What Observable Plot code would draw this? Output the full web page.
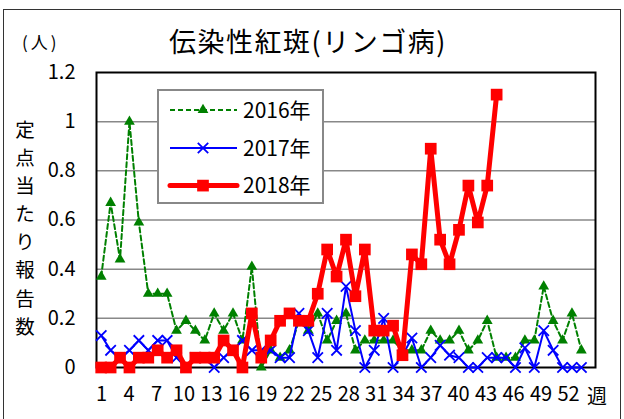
<!DOCTYPE html>
<html><head><meta charset="utf-8">
<script src="https://cdn.jsdelivr.net/npm/d3@7"></script>
<script src="https://cdn.jsdelivr.net/npm/@observablehq/plot@0.6"></script>
<style>
body{margin:0;background:#fff;}
#wrap{position:relative;width:624px;height:419px;overflow:hidden;font-family:"Noto Sans CJK JP","Noto Sans",sans-serif;color:#000;background:#fff;}
#border{position:absolute;left:3px;top:9px;width:618px;height:430px;border:1.5px solid #333;box-sizing:border-box;}
.abs{position:absolute;}
</style></head><body>
<div id="wrap">
  <div id="border"></div>
  <div id="chart" class="abs" style="left:0;top:0"></div>
  <div id="xaxis" class="abs" style="left:0;top:0;pointer-events:none"></div>
  <div class="abs" style="left:0;width:616px;top:26px;text-align:center;font-size:27px;line-height:30px;letter-spacing:1.5px;">伝染性紅斑(リンゴ病)</div>
  <div class="abs" style="left:22px;top:32px;font-size:17px;line-height:20px;letter-spacing:3px;">(人)</div>
  <div class="abs" style="left:4px;width:42px;top:115px;text-align:center;font-size:19.5px;line-height:28.1px;">定<br>点<br>当<br>た<br>り<br>報<br>告<br>数</div>
  <div class="abs" style="left:587px;top:385px;font-size:20px;line-height:22px;">週</div>
  <div id="legend" class="abs" style="left:157px;top:89px;width:167px;height:115px;border:2px solid #888;box-sizing:border-box;background:#fff;"></div>
</div>
<script>
const weeks = [1,2,3,4,5,6,7,8,9,10,11,12,13,14,15,16,17,18,19,20,21,22,23,24,25,26,27,28,29,30,31,32,33,34,35,36,37,38,39,40,41,42,43,44,45,46,47,48,49,50,51,52];
const xTickLabels = [1,4,7,10,13,16,19,22,25,28,31,34,37,40,43,46,49,52];
const yTicks = [0,0.2,0.4,0.6,0.8,1.0,1.2];
const seriesNames = ["2016年","2017年","2018年"];
const y2016 = [0.37,0.67,0.44,1.00,0.59,0.30,0.30,0.30,0.15,0.19,
  0.15,0.11,0.22,0.15,0.22,0.11,0.41,0.00,0.07,0.04,
  0.07,0.19,0.15,0.22,0.11,0.19,0.22,0.07,0.11,0.11,
  0.11,0.11,0.07,0.07,0.07,0.15,0.11,0.11,0.15,0.07,
  0.11,0.19,0.04,0.04,0.04,0.11,0.11,0.33,0.19,0.11,
  0.22,0.07];
const y2017 = [0.13,0.07,0.04,0.07,0.11,0.07,0.11,0.11,0.04,0.00,
  0.04,0.04,0.00,0.04,0.07,0.11,0.07,0.07,0.07,0.04,
  0.04,0.22,0.15,0.04,0.22,0.07,0.33,0.15,0.00,0.07,
  0.20,0.00,0.05,0.12,0.00,0.04,0.09,0.05,0.04,0.00,
  0.00,0.04,0.04,0.04,0.00,0.08,0.00,0.15,0.07,0.00,
  0.00,0.00];
const y2018 = [0.00,0.00,0.04,0.00,0.04,0.04,0.07,0.04,0.07,0.00,
  0.04,0.04,0.04,0.11,0.07,0.00,0.22,0.04,0.11,0.19,
  0.22,0.19,0.19,0.30,0.48,0.37,0.52,0.29,0.48,0.15,
  0.15,0.17,0.05,0.46,0.42,0.89,0.52,0.42,0.56,0.74,
  0.59,0.74,1.11];

const colors = ["#008000","#0000ff","#ff0000"];
const toRows = (vals) => vals.map((v,i) => ({week: weeks[i], value: v}));
const d16 = toRows(y2016), d17 = toRows(y2017), d18 = toRows(y2018);

const W = 624, H = 419, mL = 96, mR = 29, mT = 72, mB = 52;
const font = '"Noto Sans CJK JP","Noto Sans",sans-serif';

const chart = Plot.plot({
  width: W, height: H,
  marginLeft: mL, marginRight: mR, marginTop: mT, marginBottom: mB,
  style: {fontFamily: font, fontSize: "20px", color: "#000", background: "transparent"},
  x: {domain: [0.5, 53.5], axis: null},
  y: {domain: [0, 1.2], axis: null},
  marks: [
    Plot.ruleY(yTicks.filter(d => d > 0 && d < 1.2), {stroke: "#888", strokeWidth: 1.5}),
    Plot.frame({stroke: "#000", strokeWidth: 2}),
    Plot.axisY(yTicks, {tickSize: 0, tickPadding: 21, fontSize: 20, label: null,
      tickFormat: d => String(+d.toFixed(1))}),
    Plot.line(d16, {x: "week", y: "value", stroke: colors[0], strokeWidth: 2, strokeDasharray: "5,3"}),
    Plot.dot(d16, {x: "week", y: "value", symbol: "triangle", fill: colors[0], r: 4}),
    Plot.line(d17, {x: "week", y: "value", stroke: colors[1], strokeWidth: 2}),
    Plot.dot(d17, {x: "week", y: "value", symbol: "times", stroke: colors[1], strokeWidth: 1.8, r: 4.8}),
    Plot.line(d18, {x: "week", y: "value", stroke: colors[2], strokeWidth: 5}),
    Plot.dot(d18, {x: "week", y: "value", symbol: "square", fill: colors[2], r: 6.6})
  ]
});
document.getElementById("chart").appendChild(chart);

// tick label row (labels sit on a slightly tighter pitch than the points in the reference)
const xaxis = Plot.plot({
  width: W, height: H,
  marginLeft: mL, marginRight: mR, marginTop: mT, marginBottom: mB,
  style: {fontFamily: font, fontSize: "20px", color: "#000", background: "transparent"},
  x: {domain: [0.454, 54.95]},
  marks: [
    Plot.axisX(xTickLabels, {tickSize: 0, tickPadding: 19, fontSize: 20, label: null})
  ]
});
document.getElementById("xaxis").appendChild(xaxis);

// legend
const lg = d3.select("#legend").append("svg").attr("width", 163).attr("height", 111)
  .style("position","absolute").style("left","0").style("top","0");
const rowsY = [19, 57, 94.6];
const lx0 = 11, lx1 = 78, mx = 44;
lg.append("line").attr("x1", lx0).attr("x2", lx1).attr("y1", rowsY[0]).attr("y2", rowsY[0])
  .attr("stroke", colors[0]).attr("stroke-width", 2).attr("stroke-dasharray", "5,3");
lg.append("path").attr("d", d3.symbol(d3.symbolTriangle, 16*Math.PI)()).attr("transform", `translate(${mx},${rowsY[0]})`).attr("fill", colors[0]);
lg.append("line").attr("x1", lx0).attr("x2", lx1).attr("y1", rowsY[1]).attr("y2", rowsY[1])
  .attr("stroke", colors[1]).attr("stroke-width", 2);
lg.append("path").attr("d", d3.symbol(d3.symbolTimes, 4.8*4.8*Math.PI)()).attr("transform", `translate(${mx},${rowsY[1]})`).attr("stroke", colors[1]).attr("stroke-width", 1.8).attr("fill", "none");
lg.append("line").attr("x1", lx0).attr("x2", lx1).attr("y1", rowsY[2]).attr("y2", rowsY[2])
  .attr("stroke", colors[2]).attr("stroke-width", 5).attr("stroke-linecap", "round");
lg.append("path").attr("d", d3.symbol(d3.symbolSquare, 6.6*6.6*Math.PI)()).attr("transform", `translate(${mx},${rowsY[2]})`).attr("fill", colors[2]);
seriesNames.forEach((n, i) => {
  lg.append("text").attr("x", 84).attr("y", rowsY[i]).attr("dy", "0.36em")
    .attr("font-family", font).attr("font-size", 21).text(n);
});
</script>
</body></html>
